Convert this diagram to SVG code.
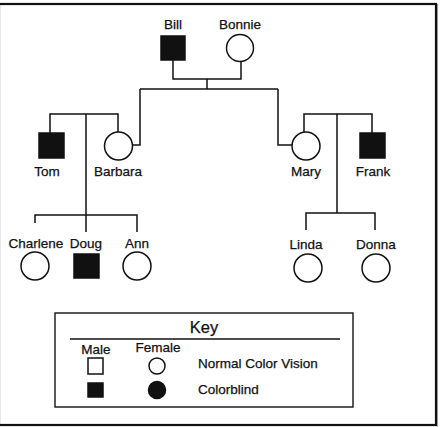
<svg xmlns="http://www.w3.org/2000/svg" width="442" height="427" viewBox="0 0 442 427">
<style>
.ln{fill:none;stroke:#111;stroke-width:1.5}
.m{fill:#111;stroke:#111;stroke-width:1.5}
.f{fill:#fff;stroke:#111;stroke-width:1.5}
text{font-family:"Liberation Sans",Arial,sans-serif;font-size:13.5px;fill:#111;stroke:#111;stroke-width:0.25;text-anchor:middle}
.k{font-size:13.5px}
</style>
<rect x="0" y="0" width="442" height="427" fill="#fff"/>
<rect x="-1" y="4" width="437" height="421" fill="none" stroke="#111" stroke-width="2.2"/>
<line x1="437.5" y1="4" x2="437.5" y2="427" stroke="#999" stroke-width="1"/>
<g id="connectors">
<path class="ln" d="M173,60 V79 H241 V62 M207,79 V89 M140,89 H278 M140,89 V145 H133 M278,89 V145 H292"/>
<path class="ln" d="M50,133 V114 H118 V132 M86,114 V215 M35,223 V215 H137 V232 M86,215 V232"/>
<path class="ln" d="M304,132 V114 H372 V133 M337,114 V213 M306,230 V213 H375 V230"/>
</g>
<g id="bill"><rect class="m" x="161" y="36" width="24" height="24"/><text x="173" y="29">Bill</text></g>
<g id="bonnie"><circle class="f" cx="240" cy="48" r="13.5"/><text x="240" y="29">Bonnie</text></g>
<g id="tom"><rect class="m" x="39" y="133" width="25" height="25"/><text x="47" y="176">Tom</text></g>
<g id="barbara"><circle class="f" cx="118.5" cy="146" r="14"/><text x="118" y="176">Barbara</text></g>
<g id="mary"><circle class="f" cx="306" cy="146" r="14"/><text x="306" y="176">Mary</text></g>
<g id="frank"><rect class="m" x="360" y="133" width="25" height="25"/><text x="373" y="176">Frank</text></g>
<g id="charlene"><circle class="f" cx="35" cy="266" r="14"/><text x="36" y="248">Charlene</text></g>
<g id="doug"><rect class="m" x="74" y="254" width="25" height="24"/><text x="86" y="248">Doug</text></g>
<g id="ann"><circle class="f" cx="137" cy="266" r="14"/><text x="137" y="248">Ann</text></g>
<g id="linda"><circle class="f" cx="308" cy="268" r="14"/><text x="306" y="249">Linda</text></g>
<g id="donna"><circle class="f" cx="376" cy="268" r="14"/><text x="376" y="249">Donna</text></g>
<g id="key">
<rect x="55" y="313" width="298" height="94" fill="none" stroke="#222" stroke-width="1.5"/>
<text x="204" y="333" style="font-size:16.5px">Key</text>
<line x1="70" y1="339" x2="340" y2="339" stroke="#111" stroke-width="1.5"/>
<text class="k" x="96" y="354">Male</text>
<text class="k" x="158" y="352">Female</text>
<rect class="f" x="88" y="358" width="15" height="16"/>
<circle class="f" cx="157" cy="366" r="8"/>
<text class="k" x="198" y="368" style="text-anchor:start">Normal Color Vision</text>
<rect class="m" x="88" y="383" width="15" height="14"/>
<circle class="m" cx="157" cy="390" r="8.5"/>
<text class="k" x="198" y="394" style="text-anchor:start">Colorblind</text>
</g>
</svg>
